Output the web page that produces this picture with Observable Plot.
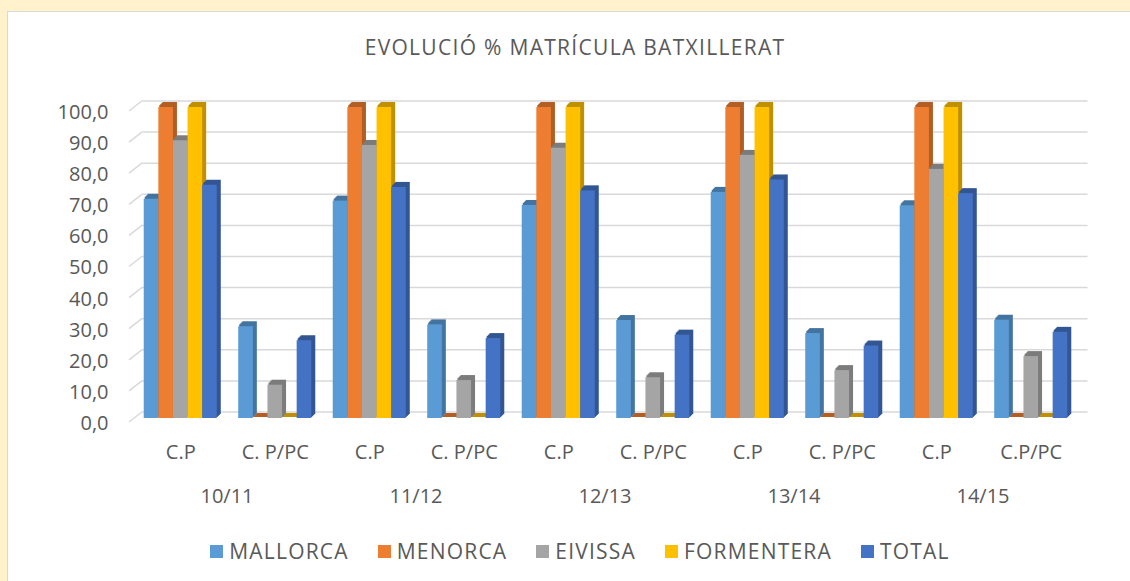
<!DOCTYPE html>
<html>
<head>
<meta charset="utf-8">
<script src="https://cdn.jsdelivr.net/npm/d3@7"></script>
<script src="https://cdn.jsdelivr.net/npm/@observablehq/plot@0.6"></script>
<style>
  html, body { margin: 0; padding: 0; width: 1130px; height: 581px; overflow: hidden; background: #FFF2CC; font-family: "Open Sans", sans-serif; }
  #panel { position: absolute; left: 7px; top: 11px; width: 1200px; height: 700px; background: #fff; border-left: 1px solid #D9D9D9; border-top: 1px solid #D9D9D9; }
  #title { position: absolute; left: 0; top: 22px; width: 1134px; text-align: center; font-size: 21px; line-height: 26px; color: #595959; letter-spacing: 1.3px; }
  #chart { position: absolute; left: 0; top: 68px; }
  #legend { position: absolute; left: 0; top: 526px; width: 1144px; display: flex; justify-content: center; gap: 29px; font-size: 21px; line-height: 26px; color: #595959; letter-spacing: 1.2px; }
  .item { display: flex; align-items: center; gap: 6px; }
  .sw { width: 13px; height: 13px; display: inline-block; }
  #chart text.cat { letter-spacing: 1.5px; }
  #chart text.yr { letter-spacing: 1px; }
</style>
</head>
<body>
<div id="panel">
  <div id="title">EVOLUCIÓ % MATRÍCULA BATXILLERAT</div>
  <div id="chart"></div>
  <div id="legend"></div>
</div>
<script>
const categories = ["C.P", "C. P/PC", "C.P", "C. P/PC", "C.P", "C. P/PC", "C.P", "C. P/PC", "C.P", "C.P/PC"];
const years = ["10/11", "11/12", "12/13", "13/14", "14/15"];
const seriesNames = ["MALLORCA", "MENORCA", "EIVISSA", "FORMENTERA", "TOTAL"];
const seriesColors = ["#5B9BD5", "#ED7D31", "#A5A5A5", "#FFC000", "#4472C4"];

const mallorca   = [70.5, 29.5, 69.9, 30.1, 68.5, 31.5, 72.7, 27.3, 68.4, 31.6];
const menorca    = [100, 0, 100, 0, 100, 0, 100, 0, 100, 0];
const eivissa    = [89.3, 10.7, 87.8, 12.2, 86.9, 13.1, 84.6, 15.4, 80.1, 19.9];
const formentera = [100, 0, 100, 0, 100, 0, 100, 0, 100, 0];
const total      = [75.0, 25.0, 74.3, 25.7, 73.2, 26.8, 76.7, 23.3, 72.3, 27.7];

const yTicks = [0, 10, 20, 30, 40, 50, 60, 70, 80, 90, 100];

const seriesValues = [mallorca, menorca, eivissa, formentera, total];
const darken = c => { const r = d3.rgb(c); return d3.rgb(r.r * 0.75, r.g * 0.75, r.b * 0.75).formatHex(); };

const rows = [];
seriesValues.forEach((vals, s) => vals.forEach((v, i) => rows.push({
  s, i, v, series: seriesNames[s], color: seriesColors[s], dark: darken(seriesColors[s])
})));

const clusterHalf = 0.3865, barW = 0.1546;
const x1 = d => d.i - clusterHalf + d.s * barW;
const x2 = d => d.i - clusterHalf + (d.s + 1) * barW;

function sideWall(index, scales, values, dimensions) {
  const g = d3.create("svg:g").attr("stroke", "#D9D9D9").attr("stroke-width", 1.5);
  for (const t of yTicks) {
    const y = scales.y(t);
    g.append("line")
      .attr("x1", dimensions.marginLeft - 4).attr("y1", y + 4)
      .attr("x2", dimensions.marginLeft + 9.5).attr("y2", y - 6.5);
  }
  return g.node();
}

const extrusions = [];
for (let s = 0; s < seriesNames.length; s++) {
  const data = rows.filter(d => d.s === s);
  for (let k = 4; k >= 1; k--) {
    extrusions.push(Plot.rect(data, {
      x1, x2, y1: 0, y2: "v", fill: "dark", insetTop: -1, dx: k, dy: -k
    }));
  }
}

const fmt = d => d.toFixed(1).replace(".", ",");

const chart = Plot.plot({
  width: 1122,
  height: 440,
  marginLeft: 125,
  marginRight: 52,
  marginTop: 27,
  marginBottom: 102,
  x: { type: "linear", domain: [-0.5, 9.5], axis: null },
  y: { domain: [0, 100], axis: null },
  color: { type: "identity" },
  style: { fontFamily: "Open Sans, sans-serif", fontSize: "20px", color: "#595959", background: "transparent", overflow: "visible" },
  marks: [
    Plot.ruleY(yTicks, { stroke: "#D9D9D9", strokeWidth: 1.5, dx: 9.5, dy: -6.5 }),
    sideWall,
    ...extrusions,
    Plot.rect(rows, { x1, x2, y1: 0, y2: "v", fill: "color" }),
    Plot.text(yTicks, { y: d => d, text: fmt, frameAnchor: "left", textAnchor: "end", dx: -25, dy: 5, fill: "#595959", fontSize: 20 }),
    Plot.text(categories, { x: (d, i) => i, text: d => d, frameAnchor: "bottom", dy: 34, dx: 0, lineAnchor: "middle", fill: "#595959", fontSize: 20, className: "cat" }),
    Plot.text(years, { x: (d, i) => 2 * i + 0.5, text: d => d, frameAnchor: "bottom", dy: 78, dx: -1, lineAnchor: "middle", fill: "#595959", fontSize: 20, className: "yr" })
  ]
});
document.getElementById("chart").appendChild(chart);

const legend = document.getElementById("legend");
seriesNames.forEach((name, s) => {
  const item = document.createElement("div");
  item.className = "item";
  const sw = document.createElement("span");
  sw.className = "sw";
  sw.style.background = seriesColors[s];
  const label = document.createElement("span");
  label.textContent = name;
  item.appendChild(sw);
  item.appendChild(label);
  legend.appendChild(item);
});
</script>
</body>
</html>
